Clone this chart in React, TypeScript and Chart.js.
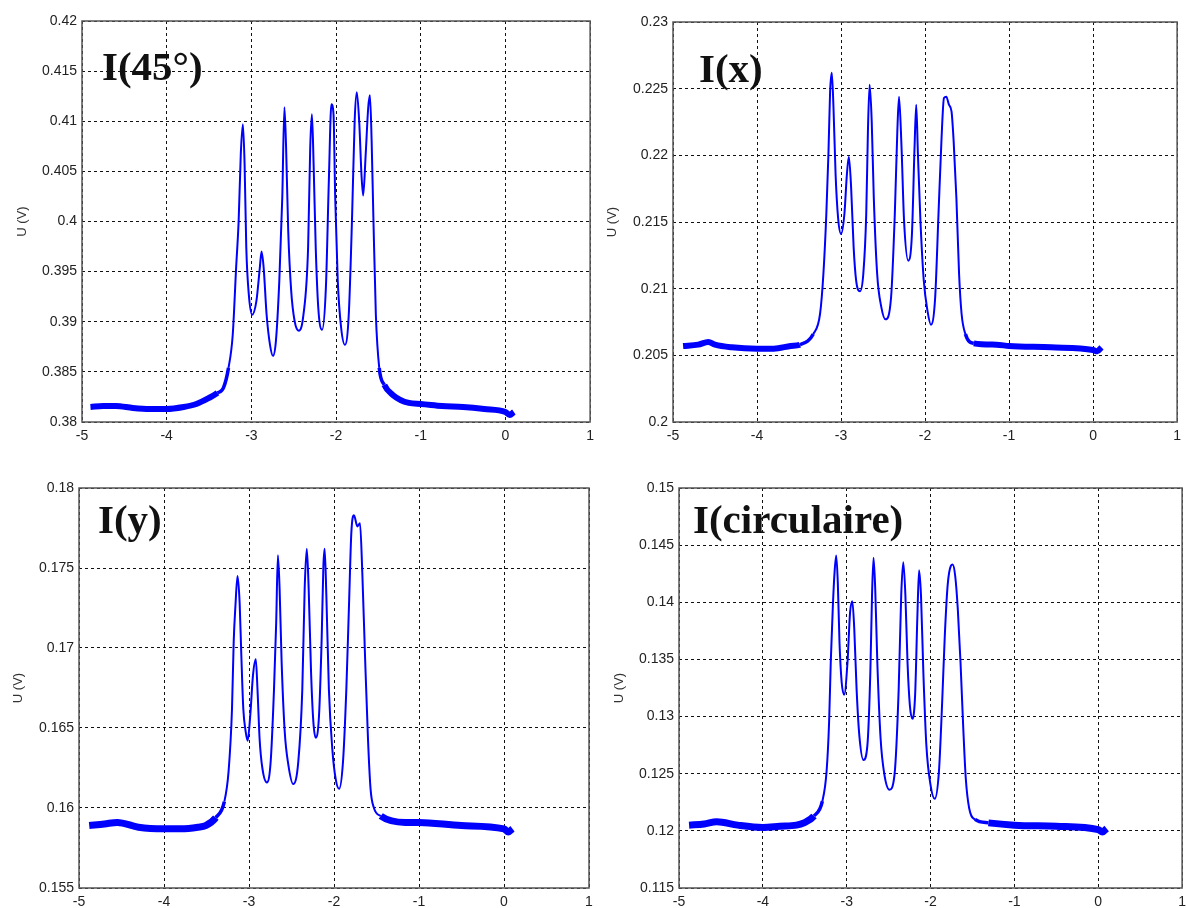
import React, { useEffect, useRef } from "react";
import { Chart, registerables } from "chart.js";

Chart.register(...registerables);

// ---------- tick values ----------
const xTickValues = [-5, -4, -3, -2, -1, 0, 1];
const yTicks45 = [0.38, 0.385, 0.39, 0.395, 0.4, 0.405, 0.41, 0.415, 0.42];
const yTicksX = [0.2, 0.205, 0.21, 0.215, 0.22, 0.225, 0.23];
const yTicksY = [0.155, 0.16, 0.165, 0.17, 0.175, 0.18];
const yTicksCirc = [0.115, 0.12, 0.125, 0.13, 0.135, 0.14, 0.145, 0.15];

// ---------- panel titles ----------
const titles = ["I(45°)", "I(x)", "I(y)", "I(circulaire)"];
const yAxisLabel = "U (V)";

// ---------- series values: [x, U] ----------
const seriesI45: [number, number][] = [
  [-4.9, 0.3815], [-4.75, 0.3816], [-4.6, 0.3816], [-4.4, 0.3814], [-4.2, 0.3813],
  [-4.0, 0.3813], [-3.8, 0.3815], [-3.65, 0.3818], [-3.5, 0.3824], [-3.4, 0.3829],
  [-3.33, 0.3834], [-3.27, 0.3854], [-3.22, 0.3887], [-3.18, 0.3954], [-3.15, 0.4001],
  [-3.125, 0.4067], [-3.1, 0.4097], [-3.08, 0.4057], [-3.06, 0.3974], [-3.03, 0.3927],
  [-2.99, 0.3907], [-2.94, 0.3921], [-2.9, 0.3954], [-2.88, 0.397], [-2.855, 0.3954],
  [-2.82, 0.3907], [-2.78, 0.3877], [-2.745, 0.3866], [-2.71, 0.3881], [-2.67, 0.3941],
  [-2.635, 0.4024], [-2.61, 0.4114], [-2.59, 0.4074], [-2.565, 0.3991], [-2.53, 0.3931],
  [-2.49, 0.3901], [-2.44, 0.3891], [-2.385, 0.3907], [-2.33, 0.3974], [-2.305, 0.4074],
  [-2.285, 0.4107], [-2.265, 0.4057], [-2.24, 0.3974], [-2.21, 0.3914], [-2.165, 0.3892],
  [-2.12, 0.3934], [-2.085, 0.4041], [-2.055, 0.4117], [-2.03, 0.4107], [-2.01, 0.4024],
  [-1.98, 0.3941], [-1.94, 0.3894], [-1.895, 0.3877], [-1.85, 0.3907], [-1.81, 0.4007],
  [-1.78, 0.4101], [-1.755, 0.4129], [-1.725, 0.4097], [-1.7, 0.4047], [-1.68, 0.4026],
  [-1.65, 0.4067], [-1.62, 0.4114], [-1.6, 0.4126], [-1.58, 0.4081], [-1.56, 0.4007],
  [-1.53, 0.3907], [-1.49, 0.3854], [-1.43, 0.3837], [-1.33, 0.3827], [-1.14, 0.3819],
  [-1.0, 0.3818], [-0.75, 0.3816], [-0.5, 0.3815], [-0.25, 0.3813], [0, 0.381],
  [0.05, 0.3807], [0.1, 0.381],
];

const seriesIx: [number, number][] = [
  [-4.88, 0.2057], [-4.7, 0.2058], [-4.58, 0.206], [-4.5, 0.2058], [-4.3, 0.2056],
  [-4.0, 0.2055], [-3.8, 0.2055], [-3.6, 0.2057], [-3.49, 0.2058], [-3.33, 0.2066],
  [-3.25, 0.2081], [-3.21, 0.2111], [-3.175, 0.2156], [-3.15, 0.2201], [-3.13, 0.2248],
  [-3.11, 0.2262], [-3.09, 0.2236], [-3.065, 0.2186], [-3.035, 0.2153], [-3.0, 0.2141],
  [-2.96, 0.2156], [-2.93, 0.2186], [-2.907, 0.2199], [-2.88, 0.2176], [-2.85, 0.2131],
  [-2.82, 0.2106], [-2.775, 0.2098], [-2.735, 0.2111], [-2.7, 0.2156], [-2.68, 0.2218],
  [-2.66, 0.2253], [-2.635, 0.2226], [-2.61, 0.2168], [-2.57, 0.2111], [-2.52, 0.2086],
  [-2.47, 0.2077], [-2.405, 0.2093], [-2.36, 0.2156], [-2.33, 0.2218], [-2.31, 0.2244],
  [-2.28, 0.2206], [-2.25, 0.2151], [-2.2, 0.2121], [-2.156, 0.2141], [-2.125, 0.2206],
  [-2.105, 0.2238], [-2.085, 0.2201], [-2.055, 0.2151], [-2.015, 0.2106], [-1.97, 0.2083],
  [-1.93, 0.2073], [-1.88, 0.2093], [-1.84, 0.2156], [-1.805, 0.2211], [-1.775, 0.2243],
  [-1.747, 0.2244], [-1.716, 0.2238], [-1.685, 0.2233], [-1.66, 0.2211], [-1.627, 0.2168],
  [-1.595, 0.2111], [-1.565, 0.2081], [-1.52, 0.2066], [-1.42, 0.2059], [-1.15, 0.2058],
  [-1.0, 0.2057], [-0.5, 0.2056], [0, 0.2054], [0.05, 0.2053], [0.1, 0.2056],
];

const seriesIy: [number, number][] = [
  [-4.88, 0.1589], [-4.7, 0.159], [-4.55, 0.1591], [-4.3, 0.1588], [-4.0, 0.1587],
  [-3.8, 0.1587], [-3.6, 0.1588], [-3.51, 0.1589], [-3.39, 0.1594], [-3.29, 0.1604],
  [-3.24, 0.1623], [-3.2, 0.1662], [-3.18, 0.1704], [-3.16, 0.1726], [-3.135, 0.1745],
  [-3.11, 0.1728], [-3.09, 0.1695], [-3.067, 0.1662], [-3.04, 0.1648], [-3.016, 0.1642],
  [-2.985, 0.1658], [-2.953, 0.1683], [-2.92, 0.1693], [-2.9, 0.1674], [-2.875, 0.1643],
  [-2.843, 0.1625], [-2.79, 0.1616], [-2.745, 0.1629], [-2.706, 0.1674], [-2.68, 0.1716],
  [-2.66, 0.1758], [-2.64, 0.1737], [-2.616, 0.1691], [-2.58, 0.1648], [-2.537, 0.1627],
  [-2.48, 0.1615], [-2.42, 0.1629], [-2.373, 0.1674], [-2.345, 0.1737], [-2.32, 0.1762],
  [-2.298, 0.1737], [-2.27, 0.1685], [-2.243, 0.1654], [-2.216, 0.1644], [-2.176, 0.1658],
  [-2.145, 0.1706], [-2.125, 0.1751], [-2.11, 0.1762], [-2.09, 0.1733], [-2.06, 0.1674],
  [-2.02, 0.1637], [-1.98, 0.1618], [-1.94, 0.1612], [-1.894, 0.1629], [-1.855, 0.1674],
  [-1.824, 0.1726], [-1.796, 0.1772], [-1.765, 0.1783], [-1.725, 0.1776], [-1.694, 0.1778],
  [-1.667, 0.1747], [-1.635, 0.1695], [-1.6, 0.1643], [-1.57, 0.1612], [-1.53, 0.16],
  [-1.45, 0.1595], [-1.16, 0.1591], [-1.0, 0.1591], [-0.5, 0.1589], [0, 0.1587],
  [0.05, 0.1585], [0.1, 0.1587],
];

const seriesIcirc: [number, number][] = [
  [-4.88, 0.1205], [-4.7, 0.1206], [-4.55, 0.1208], [-4.3, 0.1205], [-4.0, 0.1203],
  [-3.8, 0.1204], [-3.6, 0.1205], [-3.51, 0.1207], [-3.39, 0.1213], [-3.29, 0.1226],
  [-3.24, 0.1252], [-3.21, 0.1295], [-3.19, 0.1348], [-3.165, 0.1397], [-3.145, 0.1426],
  [-3.125, 0.1441], [-3.106, 0.1417], [-3.086, 0.1365], [-3.06, 0.133], [-3.03, 0.1319],
  [-2.99, 0.1348], [-2.96, 0.1391], [-2.933, 0.1401], [-2.91, 0.1377], [-2.882, 0.1324],
  [-2.85, 0.1284], [-2.8, 0.1262], [-2.753, 0.1275], [-2.718, 0.1339], [-2.698, 0.1406],
  [-2.68, 0.1439], [-2.66, 0.1412], [-2.635, 0.1348], [-2.596, 0.1281], [-2.55, 0.1249],
  [-2.49, 0.1236], [-2.43, 0.1249], [-2.38, 0.1324], [-2.35, 0.1406], [-2.325, 0.1435],
  [-2.3, 0.1406], [-2.275, 0.1348], [-2.247, 0.131], [-2.216, 0.1298], [-2.184, 0.1319],
  [-2.157, 0.1388], [-2.137, 0.1428], [-2.114, 0.1406], [-2.086, 0.1339], [-2.05, 0.1275],
  [-2.0, 0.124], [-1.95, 0.1228], [-1.9, 0.1252], [-1.863, 0.131], [-1.83, 0.1371],
  [-1.796, 0.1415], [-1.757, 0.1432], [-1.737, 0.1433], [-1.706, 0.1423], [-1.675, 0.1394],
  [-1.643, 0.1348], [-1.61, 0.129], [-1.58, 0.1246], [-1.54, 0.122], [-1.47, 0.121],
  [-1.31, 0.1207], [-1.0, 0.1205], [-0.5, 0.1204], [0, 0.1201], [0.05, 0.1199],
  [0.1, 0.1202],
];

type Layout = {
  left: number; top: number; w: number; h: number;
  axisW: number; padTop: number; padRight: number; axisH: number;
  titleDx: number; titleDy: number; ylabelPad: number; band: number;
};

const layouts: Layout[] = [
  { left: 0, top: 0, w: 600, h: 450, axisW: 82, padTop: 21, padRight: 8, axisH: 28, titleDx: 20, titleDy: 59, ylabelPad: 15, band: 6 },
  { left: 600, top: 0, w: 587, h: 450, axisW: 73, padTop: 22, padRight: 3, axisH: 28, titleDx: 26, titleDy: 60, ylabelPad: 5, band: 6 },
  { left: 0, top: 450, w: 600, h: 458, axisW: 79, padTop: 38, padRight: 11, axisH: 20, titleDx: 19, titleDy: 45, ylabelPad: 11, band: 7 },
  { left: 600, top: 450, w: 592, h: 458, axisW: 79, padTop: 38, padRight: 3, axisH: 20, titleDx: 14, titleDy: 45, ylabelPad: 12, band: 7 },
];

const tickFont = { family: "'Liberation Sans', Arial, sans-serif", size: 14 };

function Panel({ series, yTicks, title, lay }: { series: [number, number][]; yTicks: number[]; title: string; lay: Layout }) {
  const ref = useRef<HTMLCanvasElement>(null);
  useEffect(() => {
    const decor = {
      id: "matlabDecor",
      afterDraw(chart: any) {
        const { ctx, chartArea } = chart;
        ctx.save();
        ctx.strokeStyle = "#555";
        ctx.lineWidth = 1.5;
        ctx.strokeRect(chartArea.left, chartArea.top, chartArea.right - chartArea.left, chartArea.bottom - chartArea.top);
        ctx.fillStyle = "#111";
        ctx.font = "bold 41px 'Liberation Serif', 'Times New Roman', serif";
        ctx.textBaseline = "alphabetic";
        ctx.textAlign = "left";
        ctx.fillText(title, chartArea.left + lay.titleDx, chartArea.top + lay.titleDy);
        ctx.restore();
      },
    };
    const chart = new Chart(ref.current as HTMLCanvasElement, {
      type: "line",
      data: {
        datasets: [
          {
            data: series.map(([x, y]) => ({ x, y })),
            borderColor: "#0000ff",
            borderWidth: 2,
            pointRadius: 0,
            cubicInterpolationMode: "monotone",
            borderJoinStyle: "round",
            borderCapStyle: "butt",
            segment: {
              borderWidth: (c: any) => {
                const x0 = c.p0.parsed.x;
                const x1 = c.p1.parsed.x;
                if (x1 <= -3.35 || x0 >= -1.45) return lay.band;
                if (x1 <= -3.26 || x0 >= -1.52) return 3.5;
                return 2;
              },
            },
          } as any,
        ],
      },
      options: {
        animation: false,
        responsive: false,
        devicePixelRatio: 1,
        layout: { padding: { left: 0, top: lay.padTop, right: lay.padRight, bottom: 0 } },
        plugins: { legend: { display: false }, tooltip: { enabled: false } },
        scales: {
          x: {
            type: "linear",
            min: xTickValues[0],
            max: xTickValues[xTickValues.length - 1],
            afterBuildTicks: (s: any) => { s.ticks = xTickValues.map((v) => ({ value: v })); },
            afterFit: (s: any) => { s.height = lay.axisH; },
            ticks: { padding: 6, font: tickFont, color: "#222", autoSkip: false, maxRotation: 0, callback: (v: any) => String(v) },
            grid: { color: "#111", lineWidth: 1, drawTicks: false },
            border: { display: false, dash: [3, 3] },
          },
          y: {
            type: "linear",
            min: yTicks[0],
            max: yTicks[yTicks.length - 1],
            afterBuildTicks: (s: any) => { s.ticks = yTicks.map((v) => ({ value: v })); },
            afterFit: (s: any) => { s.width = lay.axisW; },
            ticks: { padding: 5, font: tickFont, color: "#222", autoSkip: false, callback: (v: any) => String(v) },
            grid: { color: "#111", lineWidth: 1, drawTicks: false },
            border: { display: false, dash: [3, 3] },
            title: {
              display: true,
              text: yAxisLabel,
              font: { family: "'Liberation Sans', Arial, sans-serif", size: 13 },
              color: "#333",
              padding: { top: lay.ylabelPad, bottom: 0 },
            },
          },
        },
      } as any,
      plugins: [decor],
    });
    return () => chart.destroy();
  }, []);
  return (
    <canvas
      ref={ref}
      width={lay.w}
      height={lay.h}
      style={{ position: "absolute", left: lay.left, top: lay.top, width: lay.w, height: lay.h }}
    />
  );
}

export default function App() {
  return (
    <div style={{ position: "fixed", left: 0, top: 0, width: 1187, height: 908, overflow: "hidden", background: "#fff" }}>
      <Panel series={seriesI45} yTicks={yTicks45} title={titles[0]} lay={layouts[0]} />
      <Panel series={seriesIx} yTicks={yTicksX} title={titles[1]} lay={layouts[1]} />
      <Panel series={seriesIy} yTicks={yTicksY} title={titles[2]} lay={layouts[2]} />
      <Panel series={seriesIcirc} yTicks={yTicksCirc} title={titles[3]} lay={layouts[3]} />
    </div>
  );
}
